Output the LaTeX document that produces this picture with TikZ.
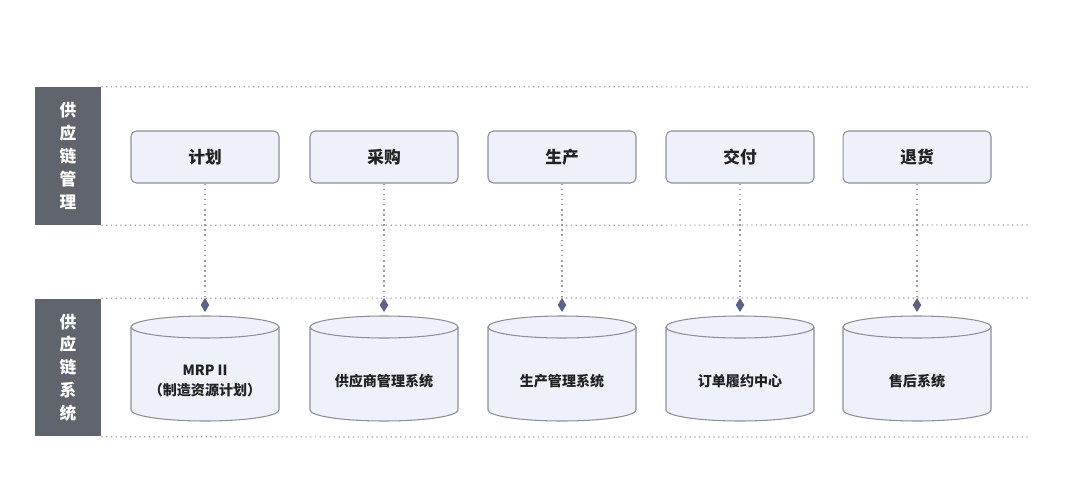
\documentclass[tikz,border=0pt]{standalone}
\usepackage{fontspec}
\setmainfont{Noto Sans CJK SC}
\usepackage{tikz}
\usetikzlibrary{positioning,arrows.meta}

\definecolor{lanegray}{HTML}{60646C}
\definecolor{boxfill}{HTML}{EEF0FA}
\definecolor{boxline}{HTML}{8C8F98}
\definecolor{dotgray}{HTML}{9A9CA2}
\definecolor{tipblue}{HTML}{5B6287}
\definecolor{textdark}{HTML}{222222}

\tikzset{
  lane/.style={fill=lanegray, text=white, minimum width=1.32cm, minimum height=2.76cm,
    inner sep=0pt, align=center, font=\bfseries\fontsize{9.5}{13}\selectfont},
  stage/.style={draw=boxline, fill=boxfill, rounded corners=3pt, line width=0.6pt,
    minimum width=2.96cm, minimum height=1.04cm, text=textdark,
    font=\bfseries\fontsize{9.5}{11}\selectfont},
  system/.style={align=center, text=textdark, font=\bfseries\fontsize{8}{11.5}\selectfont},
  guide/.style={draw=dotgray, dotted, line width=0.7pt},
  link/.style={draw=dotgray, dotted, line width=0.9pt,
    -{Diamond[length=0.28cm, width=0.17cm, color=tipblue]}, shorten >=0.08cm},
}

\begin{document}
\begin{tikzpicture}[x=0.02cm,y=-0.02cm]
    \useasboundingbox (0,0) rectangle (1067,500);
    % row labels
    \node[lane] (mgmt) at (68,156) {供\\应\\链\\管\\理};
    \node[lane] (sys) at (68,367.5) {供\\应\\链\\系\\统};
    % dotted rules
    \draw[guide] (mgmt.north east) -- (1030,87);
    \draw[guide] (mgmt.south east) -- (1030,225);
    \draw[guide] (sys.north east) -- (1030,298);
    \draw[guide] (sys.south east) -- (1030,437);
    % process steps
    \node[stage] (plan) at (205,157) {计划};
    \node[stage] (source) at (384,157) {采购};
    \node[stage] (make) at (562,157) {生产};
    \node[stage] (deliver) at (740,157) {交付};
    \node[stage] (return) at (917,157) {退货};
    % cylinders
    \foreach \cx in {205,384,562,740,917}{
      \fill[boxfill] (\cx-74,327) -- (\cx-74,410)
        arc[start angle=180, end angle=360, x radius=1.48cm, y radius=0.22cm]
        -- (\cx+74,327)
        arc[start angle=0, end angle=180, x radius=1.48cm, y radius=0.22cm] -- cycle;
      \draw[boxline, line width=0.6pt] (\cx-74,327) -- (\cx-74,410)
        arc[start angle=180, end angle=360, x radius=1.48cm, y radius=0.22cm]
        -- (\cx+74,327);
      \draw[boxline, line width=0.6pt] (\cx,327) ellipse[x radius=1.48cm, y radius=0.22cm];
    }
    \coordinate (plantop) at (205,316);
    \coordinate (sourcetop) at (384,316);
    \coordinate (maketop) at (562,316);
    \coordinate (delivertop) at (740,316);
    \coordinate (returntop) at (917,316);
    \node[system] (mrp) at (205,381) {MRP II\\（制造资源计划）};
    \node[system] (srm) at (384,381) {供应商管理系统};
    \node[system] (mes) at (562,381) {生产管理系统};
    \node[system] (oms) at (740,381) {订单履约中心};
    \node[system] (after) at (917,381) {售后系统};
    % links
    \draw[link] (plan) -- (plantop);
    \draw[link] (source) -- (sourcetop);
    \draw[link] (make) -- (maketop);
    \draw[link] (deliver) -- (delivertop);
    \draw[link] (return) -- (returntop);
\end{tikzpicture}
\end{document}
